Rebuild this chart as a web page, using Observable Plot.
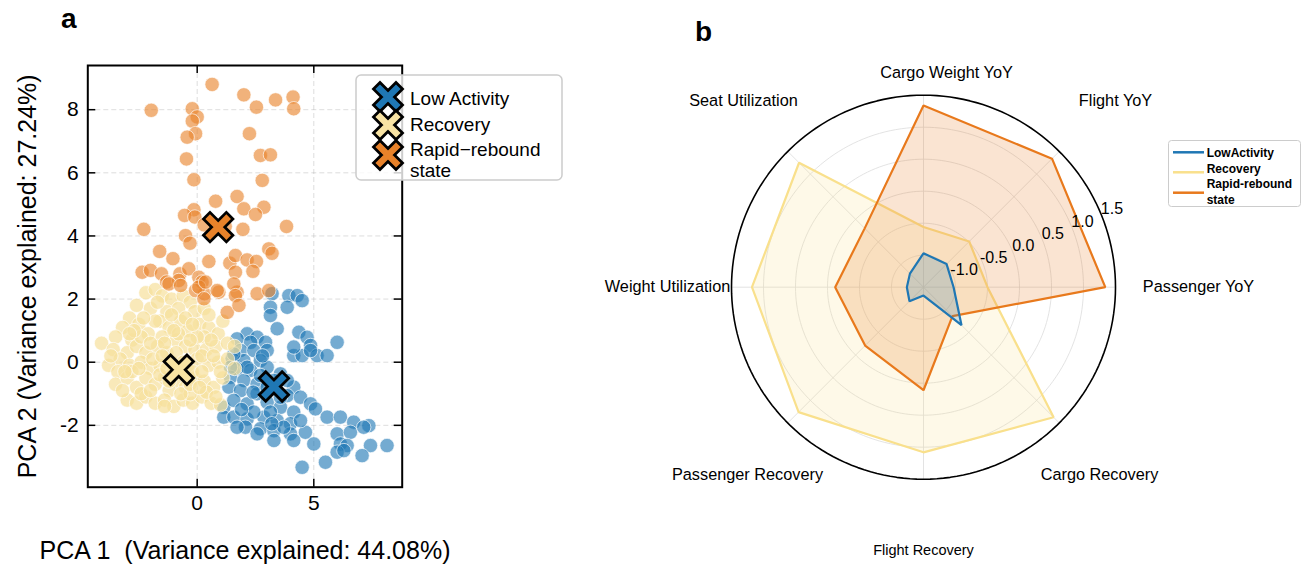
<!DOCTYPE html>
<html><head><meta charset="utf-8">
<script src="https://cdn.jsdelivr.net/npm/d3@7"></script>
<script src="https://cdn.jsdelivr.net/npm/@observablehq/plot@0.6"></script>
<style>
body{margin:0;background:#fff;font-family:"Liberation Sans",Arial,sans-serif}
#wrap{position:relative;width:1311px;height:576px;overflow:hidden;background:#fff}
.abs{position:absolute}
</style></head><body>
<div id="wrap">
 <div id="pa" class="abs" style="left:0;top:0"></div>
 <div id="pb" class="abs" style="left:600px;top:0"></div>
 <div id="la" class="abs" style="left:355px;top:74px"></div>
 <div id="lb" class="abs" style="left:1168px;top:140px"></div>
</div>
<script>
// ---------- Panel a data ----------
const clusterNames = ["Low Activity", "Recovery", "Rapid\u2212rebound", "state"];
const clusterColors = ["#1f77b4", "#f7df9b", "#e8822a"];
const lowActivityPts = [[3.21,2.17],[3.93,2.11],[4.29,2.11],[4.5,1.95],[3.14,1.74],[3.86,1.74],[3.14,1.48],[3.43,1.06],[4.36,0.95],[2.14,0.9],[1.71,0.74],[2.57,0.79],[2.29,0.63],[2.93,0.63],[4.71,0.79],[4.86,0.53],[6.0,0.63],[4.14,0.21],[4.5,0.21],[5.14,0.21],[5.57,0.21],[4.86,0.37],[1.86,0.37],[2.43,0.37],[3.0,0.37],[1.5,0.11],[2.0,0.05],[2.71,0.05],[1.71,-0.21],[2.29,-0.26],[3.0,-0.16],[3.57,-0.37],[1.43,-0.48],[2.0,-0.58],[2.57,-0.69],[4.14,-0.79],[1.36,-0.79],[1.86,-0.9],[2.57,-1.0],[3.86,-1.06],[4.43,-1.11],[4.86,-1.32],[5.07,-1.48],[1.14,-1.43],[1.57,-1.21],[2.14,-1.32],[3.0,-1.27],[3.57,-1.43],[4.14,-1.58],[1.14,-1.74],[1.57,-1.74],[2.14,-1.8],[2.86,-1.74],[3.43,-1.85],[4.0,-1.95],[5.57,-1.74],[6.14,-1.74],[6.71,-1.9],[7.36,-2.01],[2.07,-2.06],[2.71,-2.11],[3.29,-2.17],[4.0,-2.27],[4.64,-2.22],[6.0,-2.27],[6.57,-2.22],[7.14,-2.06],[3.29,-2.48],[4.14,-2.48],[5.0,-2.59],[6.14,-2.59],[6.43,-2.64],[7.43,-2.64],[8.14,-2.64],[6.0,-2.85],[6.29,-2.8],[7.07,-2.96],[5.5,-3.17],[4.5,-3.33],[3.71,-2.06],[4.43,-1.85],[2.43,-1.58],[3.14,-1.58],[1.71,-2.06],[2.57,-2.27],[3.57,-1.11],[3.0,-0.79],[3.29,-0.58],[3.86,-0.58],[1.43,-0.16],[2.14,-0.16],[2.71,-0.42],[1.57,0.26],[4.14,0.48],[2.4,-0.95],[3.2,-1.95],[1.9,-1.5],[2.8,0.2]];
const recoveryPts = [[-2.2,2.2],[-1.8,2.3],[-1.5,2.1],[-1.1,2.0],[-0.6,2.1],[-0.3,1.9],[-2.6,1.8],[-2.0,1.7],[-1.3,1.6],[-0.8,1.7],[-0.1,1.6],[0.3,1.7],[-2.9,1.4],[-1.6,1.3],[-3.2,1.1],[-2.5,1.2],[-2.1,0.9],[-1.8,1.3],[-1.2,1.1],[-0.7,1.3],[-0.4,1.0],[0.1,1.2],[0.5,1.1],[0.9,0.9],[-3.5,0.8],[-2.8,0.7],[-1.5,0.8],[-0.9,0.7],[0.3,0.8],[1.1,1.3],[-4.1,0.6],[-3.6,0.4],[-3.0,0.3],[-2.6,0.5],[-2.2,0.3],[-1.7,0.5],[-1.3,0.3],[-0.5,0.5],[-0.1,0.4],[0.4,0.4],[0.8,0.5],[1.3,0.6],[1.6,0.5],[-3.3,0.1],[-3.8,-0.1],[-3.4,-0.3],[-2.9,-0.1],[-2.4,0.0],[-2.0,-0.2],[-1.6,-0.1],[-1.1,0.0],[-0.4,-0.1],[0.0,0.1],[0.5,-0.1],[0.9,0.0],[1.3,0.1],[1.6,-0.2],[-3.5,-0.7],[-3.0,-0.5],[-2.6,-0.8],[-2.2,-0.5],[-1.8,-0.7],[-1.4,-0.5],[-0.9,-0.6],[-0.5,-0.8],[-0.1,-0.5],[0.3,-0.6],[0.7,-0.8],[1.1,-0.5],[-2.8,-0.3],[-1.2,-0.9],[-3.0,-1.2],[-2.6,-1.3],[-2.2,-1.1],[-1.8,-1.3],[-1.4,-1.2],[-1.0,-1.4],[-0.6,-1.2],[-0.2,-1.3],[0.2,-1.1],[0.6,-1.3],[1.0,-1.35],[-2.4,-1.0],[-0.3,-1.0],[0.4,-0.95],[-1.9,0.1],[-1.4,0.6],[-0.9,0.3],[-0.6,0.0],[-0.2,-0.3],[0.2,0.2],[0.6,0.7],[-2.4,0.8],[-1.1,1.5],[-0.5,1.4],[0.0,0.8],[0.7,0.2],[1.0,-0.3],[-2.0,-0.9],[-1.6,-0.4],[-1.0,-0.3],[-0.7,-1.0],[-0.3,-0.7],[0.1,-0.8],[0.8,-1.1],[-3.2,-0.9],[-3.7,0.2],[-2.7,1.0],[-1.2,-0.6],[-0.8,0.9],[-0.2,1.2],[0.5,1.5],[-1.7,1.9],[-2.3,1.4],[-1.4,-1.4],[-2.5,-0.2],[-1.5,0.2],[-0.3,0.7],[-1.0,1.0],[-2.0,0.6],[0.2,-0.3],[-1.3,-0.2],[-0.8,-0.3],[-2.9,0.9],[-3.1,-0.3]];
const rapidPts = [[0.64,8.8],[-1.97,7.98],[-0.21,8.03],[0.0,7.77],[-0.21,7.64],[-0.07,7.24],[-0.43,7.13],[-0.46,6.44],[-0.14,5.78],[2.0,8.47],[2.54,8.08],[3.36,8.31],[4.11,8.4],[4.14,8.03],[2.24,7.24],[2.71,6.55],[3.14,6.57],[2.79,5.76],[0.79,5.1],[1.71,5.25],[2.86,4.91],[2.0,4.86],[2.5,4.68],[-0.14,4.83],[-0.54,4.65],[-0.1,4.6],[-2.29,4.21],[-0.5,4.01],[-0.31,3.77],[1.96,4.21],[3.83,4.3],[0.3,4.35],[1.2,4.3],[-1.61,3.51],[-1.04,3.28],[0.5,3.19],[1.4,3.14],[1.64,3.38],[2.14,3.24],[2.54,3.19],[3.07,3.59],[3.21,3.45],[-2.36,2.85],[-2.0,2.91],[-1.53,2.8],[-0.74,2.8],[-0.36,2.96],[0.07,2.69],[0.21,2.54],[1.64,2.85],[2.39,2.88],[-1.31,2.54],[-0.79,2.59],[0.93,2.22],[1.71,2.22],[2.57,2.17],[0.31,2.17],[-0.07,2.27],[3.07,2.27],[-1.21,2.48],[-0.71,2.43],[0.07,2.38],[0.36,2.54],[0.86,2.27],[1.57,2.48],[1.64,2.11],[0.29,2.01],[1.29,1.58],[1.79,1.8]];
const centroidX = [3.29, -0.79, 0.9];
const centroidY = [-0.77, -0.24, 4.28];
const xTicks = [0, 5];
const yTicks = [-2, 0, 2, 4, 6, 8];
const xLabel = "PCA 1\u00a0\u00a0(Variance explained: 44.08%)";
const yLabel = "PCA 2 (Variance explained: 27.24%)";

// ---------- Panel b data ----------
const radarAxes = ["Passenger YoY", "Flight YoY", "Cargo Weight YoY", "Seat Utilization", "Weight Utilization", "Passenger Recovery", "Flight Recovery", "Cargo Recovery"];
const radarSeries = ["LowActivity", "Recovery", "Rapid-rebound", "state"];
const lowActivityVals = [-1.03, -0.99, -0.97, -1.20, -1.24, -1.19, -1.37, -0.66];
const recoveryVals = [-0.50, -0.49, -0.56, 1.25, 1.18, 1.26, 1.08, 1.375];
const rapidVals = [1.34, 1.34, 1.34, -0.20, -0.12, -0.21, 0.11, -0.86];
const ringTicks = [-1.0, -0.5, 0.0, 0.5, 1.0, 1.5];
const radarColors = ["#1f77b4", "#f9e08c", "#e8791c"];

const font = '"Liberation Sans", Arial, sans-serif';
const markerColors = ["#1f77b4", "#f8e3a3", "#e8822a"];

// ================= Panel a =================
{
  const W = 600, H = 576, mL = 87.3, mT = 65, mR = W - 401.7, mB = H - 486.7;
  const FW = W - mL - mR, FH = H - mT - mB, TL = 8;
  const toObj = arr => arr.map(([x, y]) => ({x, y}));
  const groups = [lowActivityPts, recoveryPts, rapidPts].map(toObj);
  const cents = centroidX.map((x, k) => ({x, y: centroidY[k], k}));
  const marks = [
    Plot.gridX(xTicks, {stroke: "#aaa", strokeOpacity: 0.5, strokeDasharray: "5,3", strokeWidth: 0.8}),
    Plot.gridY(yTicks, {stroke: "#aaa", strokeOpacity: 0.5, strokeDasharray: "5,3", strokeWidth: 0.8}),
    ...groups.map((g, k) => Plot.dot(g, {x: "x", y: "y", r: 7.2, fill: clusterColors[k], fillOpacity: k === 1 ? 0.7 : 0.62, stroke: "white", strokeWidth: 0.8, strokeOpacity: 0.85}))
  ];
  cents.forEach(c => {
    marks.push(Plot.dot([c], {x: "x", y: "y", symbol: "times", r: 7.5, stroke: "black", strokeWidth: 12, strokeLinecap: "square"}));
    marks.push(Plot.dot([c], {x: "x", y: "y", symbol: "times", r: 7.5, stroke: markerColors[c.k], strokeWidth: 6.5, strokeLinecap: "square"}));
  });
  marks.push(
    Plot.frame({stroke: "black", strokeWidth: 2}),
    Plot.tickX(xTicks, {x: d => d, insetTop: FH - TL, stroke: "black", strokeWidth: 1.5}),
    Plot.tickX(xTicks, {x: d => d, insetBottom: FH - TL, stroke: "black", strokeWidth: 1.5}),
    Plot.tickY(yTicks, {y: d => d, insetRight: FW - TL, stroke: "black", strokeWidth: 1.5}),
    Plot.tickY(yTicks, {y: d => d, insetLeft: FW - TL, stroke: "black", strokeWidth: 1.5}),
    Plot.axisX(xTicks, {tickSize: 0, tickPadding: 8, fontSize: 21, label: null, tickFormat: d => String(d)}),
    Plot.axisY(yTicks, {tickSize: 0, tickPadding: 9, fontSize: 21, label: null, tickFormat: d => String(d)}),
    Plot.text([xLabel], {text: d => d, frameAnchor: "bottom", dy: 64, fontSize: 25, fill: "black", textAnchor: "middle", lineAnchor: "middle"}),
    Plot.text([yLabel], {text: d => d, frameAnchor: "left", dx: -60, rotate: -90, fontSize: 25, fill: "black", textAnchor: "middle", lineAnchor: "middle"}),
    Plot.text(["a"], {text: d => d, frameAnchor: "top-left", dx: -19, dy: -46, fontSize: 28, fontWeight: "bold", fill: "black", textAnchor: "middle", lineAnchor: "middle"})
  );
  const pa = Plot.plot({
    width: W, height: H, marginLeft: mL, marginTop: mT, marginRight: mR, marginBottom: mB,
    style: {fontFamily: font, fontSize: "21px", color: "#000", background: "transparent"},
    x: {domain: [-4.69, 8.79]}, y: {domain: [-3.96, 9.40]},
    marks
  });
  document.getElementById("pa").appendChild(pa);

  // legend a
  const svg = d3.select("#la").append("svg").attr("width", 210).attr("height", 109);
  svg.append("rect").attr("x", 1).attr("y", 1).attr("width", 206).attr("height", 105).attr("rx", 5)
    .attr("fill", "white").attr("fill-opacity", 0.8).attr("stroke", "#cccccc").attr("stroke-width", 1.5);
  const my = [23, 51, 81];
  const xPath = (cx, cy, a) => `M${cx - a},${cy - a}L${cx + a},${cy + a}M${cx - a},${cy + a}L${cx + a},${cy - a}`;
  my.forEach((y, k) => {
    svg.append("path").attr("d", xPath(33, y, 8)).attr("stroke", "black").attr("stroke-width", 12).attr("stroke-linecap", "square").attr("fill", "none");
    svg.append("path").attr("d", xPath(33, y, 8)).attr("stroke", markerColors[k]).attr("stroke-width", 6.5).attr("stroke-linecap", "square").attr("fill", "none");
  });
  [24, 50, 75, 96].forEach((y, i) => {
    svg.append("text").attr("x", 55).attr("y", y).attr("dy", "0.35em").attr("font-size", 19).attr("font-family", font).text(clusterNames[i]);
  });
}

// ================= Panel b =================
{
  const RW = 711, RH = 576, cx = 323, cy = 286.7, RP = 192;
  const rr = v => (v + 1.5) / 3;
  const ang = i => i * Math.PI / 4;
  const series = [lowActivityVals, recoveryVals, rapidVals].map((vals, k) =>
    vals.map((v, i) => ({k, x: rr(v) * Math.cos(ang(i)), y: rr(v) * Math.sin(ang(i))})));
  const ring = t => d3.range(181).map(j => {
    const a = j * 2 * Math.PI / 180;
    return {t, x: rr(t) * Math.cos(a), y: rr(t) * Math.sin(a)};
  });
  const innerRings = ringTicks.slice(0, -1).flatMap(ring);
  const outerRing = ring(ringTicks[ringTicks.length - 1]);
  const labelOffsets = [[275, 0], [192, 186.7], [23, 214.7], [-180, 186.7], [-256, 0], [-176, -187.3], [0, -263.3], [176, -187.3]];
  const la = 22.5 * Math.PI / 180;
  const order = [1, 2, 0];
  const marks = [
    Plot.line(innerRings, {x: "x", y: "y", z: "t", curve: "linear-closed", stroke: "#dcdcdc", strokeWidth: 0.8}),
    Plot.link(radarAxes, {x1: 0, y1: 0, x2: (d, i) => Math.cos(ang(i)), y2: (d, i) => Math.sin(ang(i)), stroke: "#dcdcdc", strokeWidth: 0.8}),
    ...order.map(k => Plot.line(series[k], {x: "x", y: "y", curve: "linear-closed", fill: radarColors[k], fillOpacity: 0.2, stroke: radarColors[k], strokeWidth: 2.2, strokeLinejoin: "miter"})),
    Plot.line(outerRing, {x: "x", y: "y", curve: "linear-closed", stroke: "black", strokeWidth: 1.6}),
    Plot.text(ringTicks, {x: t => (rr(t) + 12 / RP) * Math.cos(la), y: t => (rr(t) + 12 / RP) * Math.sin(la), text: t => t.toFixed(1), fontSize: 16, fill: "black"}),
    Plot.text(radarAxes, {x: (d, i) => labelOffsets[i][0] / RP, y: (d, i) => labelOffsets[i][1] / RP, text: d => d, fontSize: (d) => d === "Flight Recovery" ? 14.5 : 16.3, fill: "black"}),
    Plot.text(["b"], {text: d => d, x: (103 - cx) / RP, y: (cy - 32) / RP, fontSize: 28, fontWeight: "bold", fill: "black"})
  ];
  const pb = Plot.plot({
    width: RW, height: RH, margin: 0,
    style: {fontFamily: font, background: "transparent", color: "#000"},
    x: {domain: [-cx / RP, (RW - cx) / RP], range: [0, RW], axis: null},
    y: {domain: [-(RH - cy) / RP, cy / RP], range: [RH, 0], axis: null},
    marks
  });
  document.getElementById("pb").appendChild(pb);

  // legend b
  const svg = d3.select("#lb").append("svg").attr("width", 134).attr("height", 68);
  svg.append("rect").attr("x", 0.5).attr("y", 0.5).attr("width", 132).attr("height", 66).attr("rx", 3)
    .attr("fill", "white").attr("fill-opacity", 0.8).attr("stroke", "#cccccc").attr("stroke-width", 1);
  [12.3, 32.3, 52.7].forEach((y, k) => {
    svg.append("line").attr("x1", 5).attr("x2", 36).attr("y1", y).attr("y2", y).attr("stroke", radarColors[k]).attr("stroke-width", 2.5);
  });
  [12.3, 28.3, 44, 60].forEach((y, i) => {
    svg.append("text").attr("x", 38.7).attr("y", y).attr("dy", "0.35em").attr("font-size", 12).attr("font-weight", "bold").attr("font-family", font).text(radarSeries[i]);
  });
}
</script>
</body></html>
